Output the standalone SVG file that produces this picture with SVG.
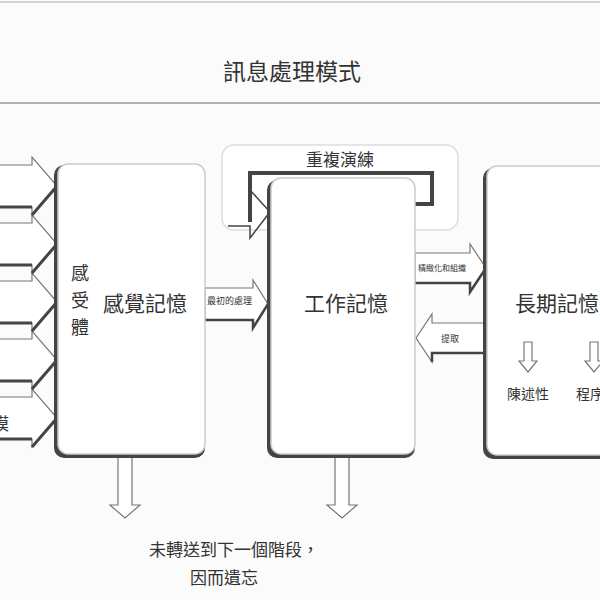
<svg xmlns="http://www.w3.org/2000/svg" width="600" height="600" viewBox="0 0 600 600">
<style>
text{font-family:"Noto Sans CJK TC","Noto Sans CJK SC",sans-serif;fill:#333}
.box{fill:#fff;stroke:#ccc;stroke-width:1.5}
.shadow{fill:#444}
.arr{fill:#fff;stroke:#777;stroke-width:1.2}
.thick{fill:none;stroke:#444;stroke-width:4}
</style>
<rect width="600" height="600" fill="#fbfbfb"/>
<line x1="0" y1="2" x2="600" y2="2" stroke="#aaa"/>
<line x1="0" y1="103" x2="600" y2="103" stroke="#999" stroke-width="1.5"/>
<text x="292" y="80" font-size="23" text-anchor="middle">訊息處理模式</text>

<g id="rehearsal">
<rect x="222" y="145" width="236" height="85" rx="12" fill="#fff" stroke="#ddd" stroke-width="1.5"/>
<text x="340" y="166" font-size="17" text-anchor="middle">重複演練</text>
</g>

<g id="connectors">
<path d="M250,190 L270,212 L250,238 V226 H228" fill="none" stroke="#444" stroke-width="1.5"/>
<path class="thick" d="M410,204 H432 V173 H250 V222"/>
<g id="inputs">
<path class="arr" d="M-10,165 H32 V157 L57,186 L32,215 V207 H-10 Z"/>
<path class="arr" d="M-10,223 H32 V215 L57,244 L32,273 V265 H-10 Z"/>
<path class="arr" d="M-10,281 H32 V273 L57,302 L32,331 V323 H-10 Z"/>
<path class="arr" d="M-10,339 H32 V331 L57,360 L32,389 V381 H-10 Z"/>
<path class="arr" d="M-10,397 H32 V389 L57,418 L32,447 V439 H-10 Z"/>
<path d="M-10,207 H32 M-10,265 H32 M-10,323 H32 M-10,381 H32 M-10,439 H32 M32,215 L57,186 M32,273 L57,244 M32,331 L57,302 M32,389 L57,360 M32,447 L57,418" stroke="#444" stroke-width="3" fill="none"/>
<text x="-8" y="430" font-size="17">模</text>
</g>
<path class="arr" d="M205,288 H253 V280 L268,304 L253,328 V320 H205 Z"/>
<path d="M205,320 H253 V328 L268,304" stroke="#444" stroke-width="2.5" fill="none"/>
<text x="207" y="304" font-size="9">最初的處理</text>
<path class="arr" d="M415,253 H470 V244 L486,268 L470,292 V283 H415 Z"/>
<path d="M415,283 H470 V292 L486,268" stroke="#444" stroke-width="2.5" fill="none"/>
<text x="418" y="271" font-size="8">精緻化和組織</text>
<path class="arr" d="M486,323 H432 V314 L416,338 L432,362 V353 H486 Z"/>
<path d="M486,353 H432 V362" stroke="#444" stroke-width="2.5" fill="none"/>
<text x="441" y="342" font-size="9">提取</text>
<path class="arr" d="M118,455 H132 V505 H140 L125,518 L110,505 H118 Z"/>
<path class="arr" d="M335,455 H349 V505 H357 L342,518 L327,505 H335 Z"/>
</g>

<g id="sensory">
<rect class="shadow" x="54" y="165" width="151" height="293" rx="10"/>
<rect class="box" x="58" y="164" width="147" height="290" rx="10"/>
<text x="80" y="280" font-size="18" text-anchor="middle">感</text>
<text x="80" y="307" font-size="18" text-anchor="middle">受</text>
<text x="80" y="334" font-size="18" text-anchor="middle">體</text>
<text x="145" y="311" font-size="21" text-anchor="middle">感覺記憶</text>
</g>

<g id="working">
<rect class="shadow" x="267" y="180" width="148" height="278" rx="10"/>
<rect class="box" x="271" y="178" width="144" height="276" rx="10"/>
<text x="346" y="311" font-size="21" text-anchor="middle">工作記憶</text>
</g>

<g id="longterm">
<rect class="shadow" x="483" y="168" width="140" height="291" rx="10"/>
<rect class="box" x="487" y="166" width="136" height="289" rx="10"/>
<text x="515" y="311" font-size="21">長期記憶</text>
<path class="arr" d="M524,342 H532 V361 H537 L528,372 L519,361 H524 Z"/>
<path class="arr" d="M590,342 H598 V361 H603 L594,372 L585,361 H590 Z"/>
<text x="528" y="399" font-size="14" text-anchor="middle">陳述性</text>
<text x="576" y="399" font-size="14">程序性</text>
</g>

<text x="234" y="556" font-size="17" text-anchor="middle">未轉送到下一個階段，</text>
<text x="224" y="584" font-size="17" text-anchor="middle">因而遺忘</text>
</svg>
